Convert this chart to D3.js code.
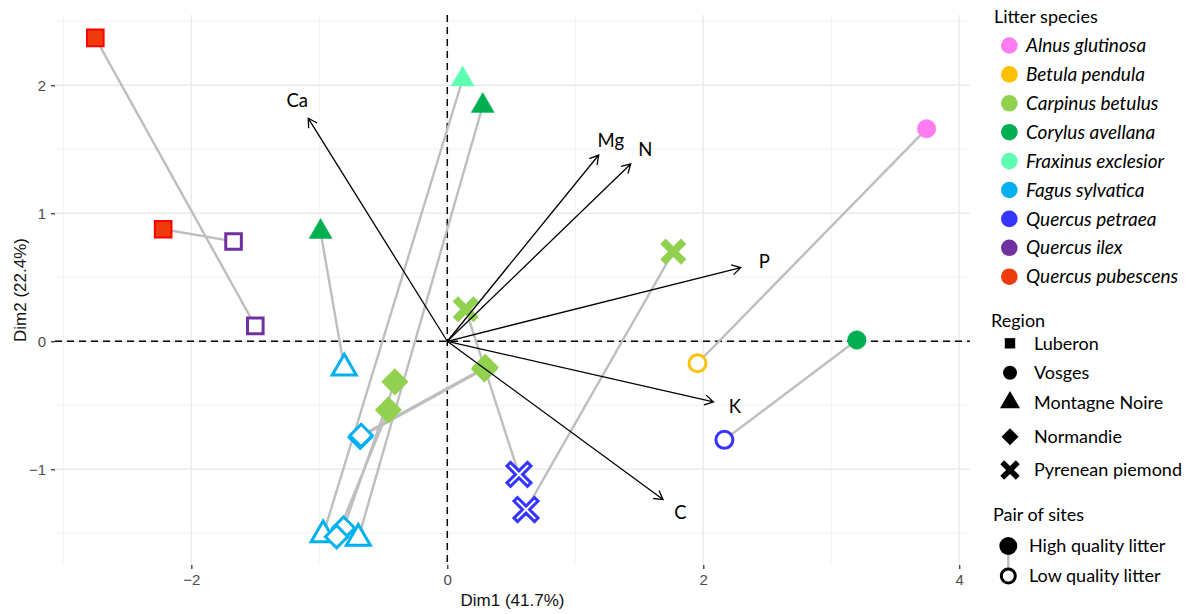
<!DOCTYPE html>
<html><head><meta charset="utf-8">
<script src="https://cdn.jsdelivr.net/npm/d3@7"></script>
<style>body{margin:0;background:#fff}svg{display:block}</style>
</head><body>
<svg id="chart" width="1192" height="614"></svg>
<script>
// ---------------- data ----------------
const species = ["Alnus glutinosa","Betula pendula","Carpinus betulus","Corylus avellana","Fraxinus exclesior","Fagus sylvatica","Quercus petraea","Quercus ilex","Quercus pubescens"];
const speciesColors = ["#FF7BF2","#FFC000","#92D050","#00B050","#5EFFB0","#00B0F0","#3535FF","#7030A0","#EE3A0C"];
const regions = ["Luberon","Vosges","Montagne Noire","Normandie","Pyrenean piemond"];

// one entry per pair of sites (high quality litter -> low quality litter)
const pairRegion  = ["Luberon","Luberon","Vosges","Vosges","Montagne Noire","Montagne Noire","Montagne Noire","Normandie","Normandie","Normandie","Normandie","Pyrenean piemond","Pyrenean piemond"];
const highSpecies = ["Quercus pubescens","Quercus pubescens","Alnus glutinosa","Corylus avellana","Corylus avellana","Fraxinus exclesior","Corylus avellana","Carpinus betulus","Carpinus betulus","Carpinus betulus","Carpinus betulus","Carpinus betulus","Carpinus betulus"];
const highX = [-2.75,-2.22, 3.745, 3.20,-0.99, 0.12, 0.277,-0.41,-0.46, 0.29, 0.297, 0.144, 1.766];
const highY = [ 2.37, 0.875,1.66, 0.01, 0.855,2.047,1.84, -0.317,-0.537,-0.217,-0.203,0.25, 0.70];
const lowSpecies  = ["Quercus ilex","Quercus ilex","Betula pendula","Quercus petraea","Fagus sylvatica","Fagus sylvatica","Fagus sylvatica","Fagus sylvatica","Fagus sylvatica","Fagus sylvatica","Fagus sylvatica","Quercus petraea","Quercus petraea"];
const lowX  = [-1.50,-1.67, 1.955, 2.165,-0.805,-0.97,-0.695,-0.81,-0.865,-0.68,-0.673, 0.56, 0.615];
const lowY  = [ 0.12, 0.78,-0.172,-0.77, -0.21,-1.513,-1.54,-1.46,-1.527,-0.75,-0.736,-1.04,-1.315];

// variable loadings (arrows)
const variables = ["Ca","Mg","N","P","K","C"];
const loadX = [-1.086, 1.183, 1.433, 2.293, 2.08, 1.686];
const loadY = [ 1.742, 1.455, 1.385, 0.575,-0.474,-1.237];

const xTicks = [-2,0,2,4];
const yTicks = [-1,0,1,2];
const xMinorTicks = [-3,-1,1,3];
const yMinorTicks = [-1.5,-0.5,0.5,1.5,2.5];
const pairLegend = ["High quality litter","Low quality litter"];
const xTitle = "Dim1 (41.7%)";
const yTitle = "Dim2 (22.4%)";

// ---------------- layout ----------------
const svg = d3.select("#chart");
const P = {left:55, right:970, top:15, bottom:565};
const x = d3.scaleLinear().domain([-3.065, 4.084]).range([P.left, P.right]);
const y = d3.scaleLinear().domain([-1.748, 2.549]).range([P.bottom, P.top]);
const color = d3.scaleOrdinal().domain(species).range(speciesColors);
const edge = s => s === "Quercus pubescens" ? "#FF0000" : color(s);
const axisFont = "'Liberation Sans', Arial, sans-serif";
const textFont = "Lato, 'Open Sans', sans-serif";

// grid
const g = svg.append("g");
g.selectAll(".vminor").data(xMinorTicks).join("line")
  .attr("x1", d=>x(d)).attr("x2", d=>x(d)).attr("y1", P.top).attr("y2", P.bottom)
  .attr("stroke","#F0F0F0").attr("stroke-width",0.8);
g.selectAll(".hminor").data(yMinorTicks).join("line")
  .attr("y1", d=>y(d)).attr("y2", d=>y(d)).attr("x1", P.left).attr("x2", P.right)
  .attr("stroke","#F0F0F0").attr("stroke-width",0.8);
g.selectAll(".vmajor").data(xTicks).join("line")
  .attr("x1", d=>x(d)).attr("x2", d=>x(d)).attr("y1", P.top).attr("y2", P.bottom)
  .attr("stroke","#EBEBEB").attr("stroke-width",1.4);
g.selectAll(".hmajor").data(yTicks).join("line")
  .attr("y1", d=>y(d)).attr("y2", d=>y(d)).attr("x1", P.left).attr("x2", P.right)
  .attr("stroke","#EBEBEB").attr("stroke-width",1.4);

// axes
const xAxis = svg.append("g").attr("transform",`translate(0,${P.bottom})`)
  .call(d3.axisBottom(x).tickValues(xTicks).tickSize(4).tickPadding(5).tickFormat(d3.format("d")));
const yAxis = svg.append("g").attr("transform",`translate(${P.left},0)`)
  .call(d3.axisLeft(y).tickValues(yTicks).tickSize(4).tickPadding(5).tickFormat(d3.format("d")));
[xAxis,yAxis].forEach(a=>{
  a.select(".domain").remove();
  a.selectAll(".tick line").attr("stroke","#333").attr("stroke-width",1.3);
  a.selectAll(".tick text").attr("fill","#4D4D4D").attr("font-size",15).attr("font-family",axisFont);
});
svg.append("text").attr("x",(P.left+P.right)/2).attr("y",606).attr("text-anchor","middle")
  .attr("font-family",axisFont).attr("font-size",17).attr("fill","#111").text(xTitle);
svg.append("text").attr("transform",`translate(26,${(P.top+P.bottom)/2}) rotate(-90)`).attr("text-anchor","middle")
  .attr("font-family",axisFont).attr("font-size",17).attr("fill","#111").text(yTitle);

// reference dashed lines
svg.append("line").attr("x1",P.left).attr("x2",P.right).attr("y1",y(0)).attr("y2",y(0))
  .attr("stroke","#000").attr("stroke-width",1.5).attr("stroke-dasharray","7,5");
svg.append("line").attr("x1",x(0)).attr("x2",x(0)).attr("y1",P.top).attr("y2",P.bottom)
  .attr("stroke","#000").attr("stroke-width",1.5).attr("stroke-dasharray","7,5");

// shapes
function crossPath(L, w){
  const pts = [[-w,-L],[w,-L],[w,-w],[L,-w],[L,w],[w,w],[w,L],[-w,L],[-w,w],[-L,w],[-L,-w],[-w,-w]];
  const c = Math.SQRT1_2;
  return "M" + pts.map(([a,b])=>[(a-b)*c,(a+b)*c].map(v=>v.toFixed(2)).join(",")).join("L") + "Z";
}
function shapePath(region, s){
  switch(region){
    case "Luberon": return `M${-s},${-s}H${s}V${s}H${-s}Z`;
    case "Vosges": return `M${s},0A${s},${s} 0 1,1 ${-s},0A${s},${s} 0 1,1 ${s},0Z`;
    case "Montagne Noire": { const h = s*1.732; return `M0,${-2*h/3}L${s},${h/3}L${-s},${h/3}Z`; }
    case "Normandie": return `M0,${-s}L${s},0L0,${s}L${-s},0Z`;
    default: return crossPath(s, s*0.25);
  }
}
const filledSize = {"Luberon":8.3,"Vosges":9.3,"Montagne Noire":11.5,"Normandie":13.3,"Pyrenean piemond":14.5};
const openSize   = {"Luberon":7.8,"Vosges":8.5,"Montagne Noire":12,"Normandie":11.2,"Pyrenean piemond":14.5};

const pairs = pairRegion.map((r,i)=>({region:r, hs:highSpecies[i], hx:highX[i], hy:highY[i], ls:lowSpecies[i], lx:lowX[i], ly:lowY[i]}));

// connecting segments
svg.append("g").selectAll("line").data(pairs).join("line")
  .attr("x1",d=>x(d.hx)).attr("y1",d=>y(d.hy)).attr("x2",d=>x(d.lx)).attr("y2",d=>y(d.ly))
  .attr("stroke","#BEBEBE").attr("stroke-width",2.4);

// low quality (open) points
svg.append("g").selectAll("path").data(pairs).join("path")
  .attr("transform",d=>`translate(${x(d.lx)},${y(d.ly)})`)
  .attr("d",d=> d.region==="Pyrenean piemond" ? crossPath(openSize[d.region], 2.5) : shapePath(d.region, openSize[d.region]))
  .attr("fill","#fff").attr("stroke",d=>color(d.ls)).attr("stroke-width",3).attr("stroke-linejoin","miter");

// high quality (filled) points
svg.append("g").selectAll("path").data(pairs).join("path")
  .attr("transform",d=>`translate(${x(d.hx)},${y(d.hy)})`)
  .attr("d",d=>shapePath(d.region, filledSize[d.region]))
  .attr("fill",d=>color(d.hs)).attr("stroke",d=>edge(d.hs)).attr("stroke-width",d=>d.hs==="Quercus pubescens"?2:0.5);

// arrows
const arrows = variables.map((v,i)=>({v, lx:loadX[i], ly:loadY[i]}));
const ag = svg.append("g");
ag.selectAll("path").data(arrows).join("path")
  .attr("d",d=>{
    const x0=x(0), y0=y(0), x1=x(d.lx), y1=y(d.ly);
    const ang=Math.atan2(y1-y0,x1-x0), hl=10, ha=Math.PI/6;
    const a1=[x1-hl*Math.cos(ang-ha), y1-hl*Math.sin(ang-ha)];
    const a2=[x1-hl*Math.cos(ang+ha), y1-hl*Math.sin(ang+ha)];
    return `M${x0},${y0}L${x1},${y1}M${a1}L${x1},${y1}L${a2}`;
  })
  .attr("fill","none").attr("stroke","#000").attr("stroke-width",1.3);
ag.selectAll("text").data(arrows).join("text")
  .attr("x",d=>x(d.lx*1.08)).attr("y",d=>y(d.ly*1.08)).attr("dy","0.35em")
  .attr("text-anchor","middle").attr("font-family",textFont).attr("font-size",18.5).attr("fill","#000")
  .text(d=>d.v);

// ---------------- legends ----------------
const lg = svg.append("g").attr("font-family",textFont).attr("fill","#000");
lg.append("text").attr("x",994).attr("y",17).attr("dy","0.35em").attr("font-size",18).text("Litter species");
const sp = lg.selectAll(".sp").data(species).join("g").attr("transform",(d,i)=>`translate(0,${45.5+i*28.9})`);
sp.append("circle").attr("cx",1009.3).attr("r",8.3).attr("fill",d=>color(d));
sp.append("text").attr("x",1026).attr("dy","0.35em").attr("font-size",19).attr("font-style","italic").text(d=>d);

lg.append("text").attr("x",991).attr("y",320.7).attr("dy","0.35em").attr("font-size",18).text("Region");
const regionRowY = [343.3,372.7,402.5,436.7,470];
const legSize = {"Luberon":5.2,"Vosges":7,"Montagne Noire":10,"Normandie":8.5,"Pyrenean piemond":11};
const rg = lg.selectAll(".rg").data(regions).join("g").attr("transform",(d,i)=>`translate(0,${regionRowY[i]})`);
rg.append("path").attr("transform","translate(1010,0)").attr("d",d=>shapePath(d, legSize[d])).attr("fill","#000");
rg.append("text").attr("x",1034).attr("dy","0.35em").attr("font-size",18).text(d=>d);

lg.append("text").attr("x",993).attr("y",515).attr("dy","0.35em").attr("font-size",18).text("Pair of sites");
lg.append("line").attr("x1",1008.3).attr("x2",1008.3).attr("y1",546).attr("y2",576).attr("stroke","#BEBEBE").attr("stroke-width",2.4);
lg.append("circle").attr("cx",1008.3).attr("cy",546).attr("r",9).attr("fill","#000");
lg.append("circle").attr("cx",1008.3).attr("cy",576).attr("r",7).attr("fill","#fff").attr("stroke","#000").attr("stroke-width",3);
lg.selectAll(".pl").data(pairLegend).join("text").attr("x",1029).attr("y",(d,i)=>546+i*30).attr("dy","0.35em")
  .attr("font-size",18).text(d=>d);
</script>
</body></html>
